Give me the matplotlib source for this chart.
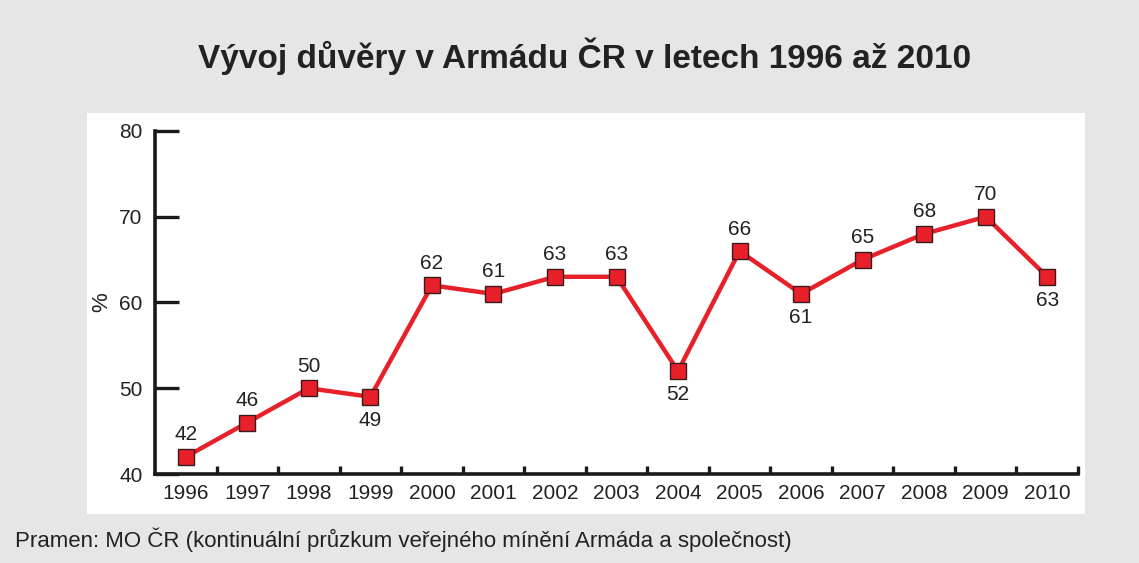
import matplotlib
matplotlib.use("Agg")
import matplotlib.pyplot as plt
from matplotlib.patches import Rectangle
from matplotlib import font_manager

years = ["1996", "1997", "1998", "1999", "2000", "2001", "2002", "2003",
         "2004", "2005", "2006", "2007", "2008", "2009", "2010"]
values = [42, 46, 50, 49, 62, 61, 63, 63, 52, 66, 61, 65, 68, 70, 63]
below = ["1999", "2004", "2006", "2010"]
y_ticks = [40, 50, 60, 70, 80]

names = {f.name for f in font_manager.fontManager.ttflist}
narrow = "Liberation Sans Narrow" if "Liberation Sans Narrow" in names else "Liberation Sans"
NF = [narrow, "DejaVu Sans"]
WF = ["Liberation Sans", "DejaVu Sans"]
NS = 15

fig = plt.figure(figsize=(11.39, 5.63), dpi=100)
fig.patch.set_facecolor("#e6e6e6")
W, H = 1139, 563
bg = Rectangle((87 / W, 1 - 514 / H), (1085 - 87) / W, (514 - 113) / H,
               transform=fig.transFigure, facecolor="white", edgecolor="none", zorder=-5)
fig.add_artist(bg)

ax = fig.add_axes([155 / W, 1 - 474 / H, (1078 - 155) / W, (474 - 131) / H])
ax.set_zorder(2)
ax.set_facecolor("none")
x = list(range(len(years)))
ax.plot(x, values, color="#e8202a", lw=3.2, marker="s", markersize=11,
        markerfacecolor="#e8202a", markeredgecolor="#3a1a1a", markeredgewidth=1.0,
        clip_on=False, zorder=3)
for xi, yr, v in zip(x, years, values):
    if yr in below:
        ax.annotate(str(v), (xi, v), xytext=(0, -10), textcoords="offset points",
                    ha="center", va="top", fontsize=NS, family=NF, color="#222222")
    else:
        ax.annotate(str(v), (xi, v), xytext=(0, 9), textcoords="offset points",
                    ha="center", va="bottom", fontsize=NS, family=NF, color="#222222")

ax.set_xlim(-0.5, len(years) - 0.5)
ax.set_ylim(40, 80)
ax.set_yticks(y_ticks)
ax.set_yticklabels([str(t) for t in y_ticks], family=NF, fontsize=NS, color="#222222")
ax.tick_params(axis="y", direction="in", length=17, width=2.4, pad=9, color="#1a1a1a")
ax.set_xticks([i + 0.5 for i in range(len(years))])
ax.set_xticks(x, minor=True)
ax.set_xticklabels([])
ax.set_xticklabels(years, minor=True, family=NF, fontsize=NS, color="#222222")
ax.tick_params(axis="x", which="major", direction="in", length=6, width=2.4, color="#1a1a1a")
ax.tick_params(axis="x", which="minor", length=0, pad=7)
for s in ["top", "right"]:
    ax.spines[s].set_visible(False)
for s in ["left", "bottom"]:
    ax.spines[s].set_linewidth(2.6)
    ax.spines[s].set_color("#1a1a1a")
ax.set_ylabel("%", family=NF, fontsize=NS + 1, color="#222222", labelpad=5)

fig.text(585 / W, 1 - 56 / H, "Vývoj důvěry v Armádu ČR v letech 1996 až 2010",
         ha="center", va="center", fontsize=24, fontweight="bold", family=WF, color="#222222")
fig.text(15 / W, 1 - 540 / H,
         "Pramen: MO ČR (kontinuální průzkum veřejného mínění Armáda a společnost)",
         ha="left", va="center", fontsize=16, family=WF, color="#222222")

fig.savefig("out.png", dpi=100, facecolor=fig.get_facecolor())
